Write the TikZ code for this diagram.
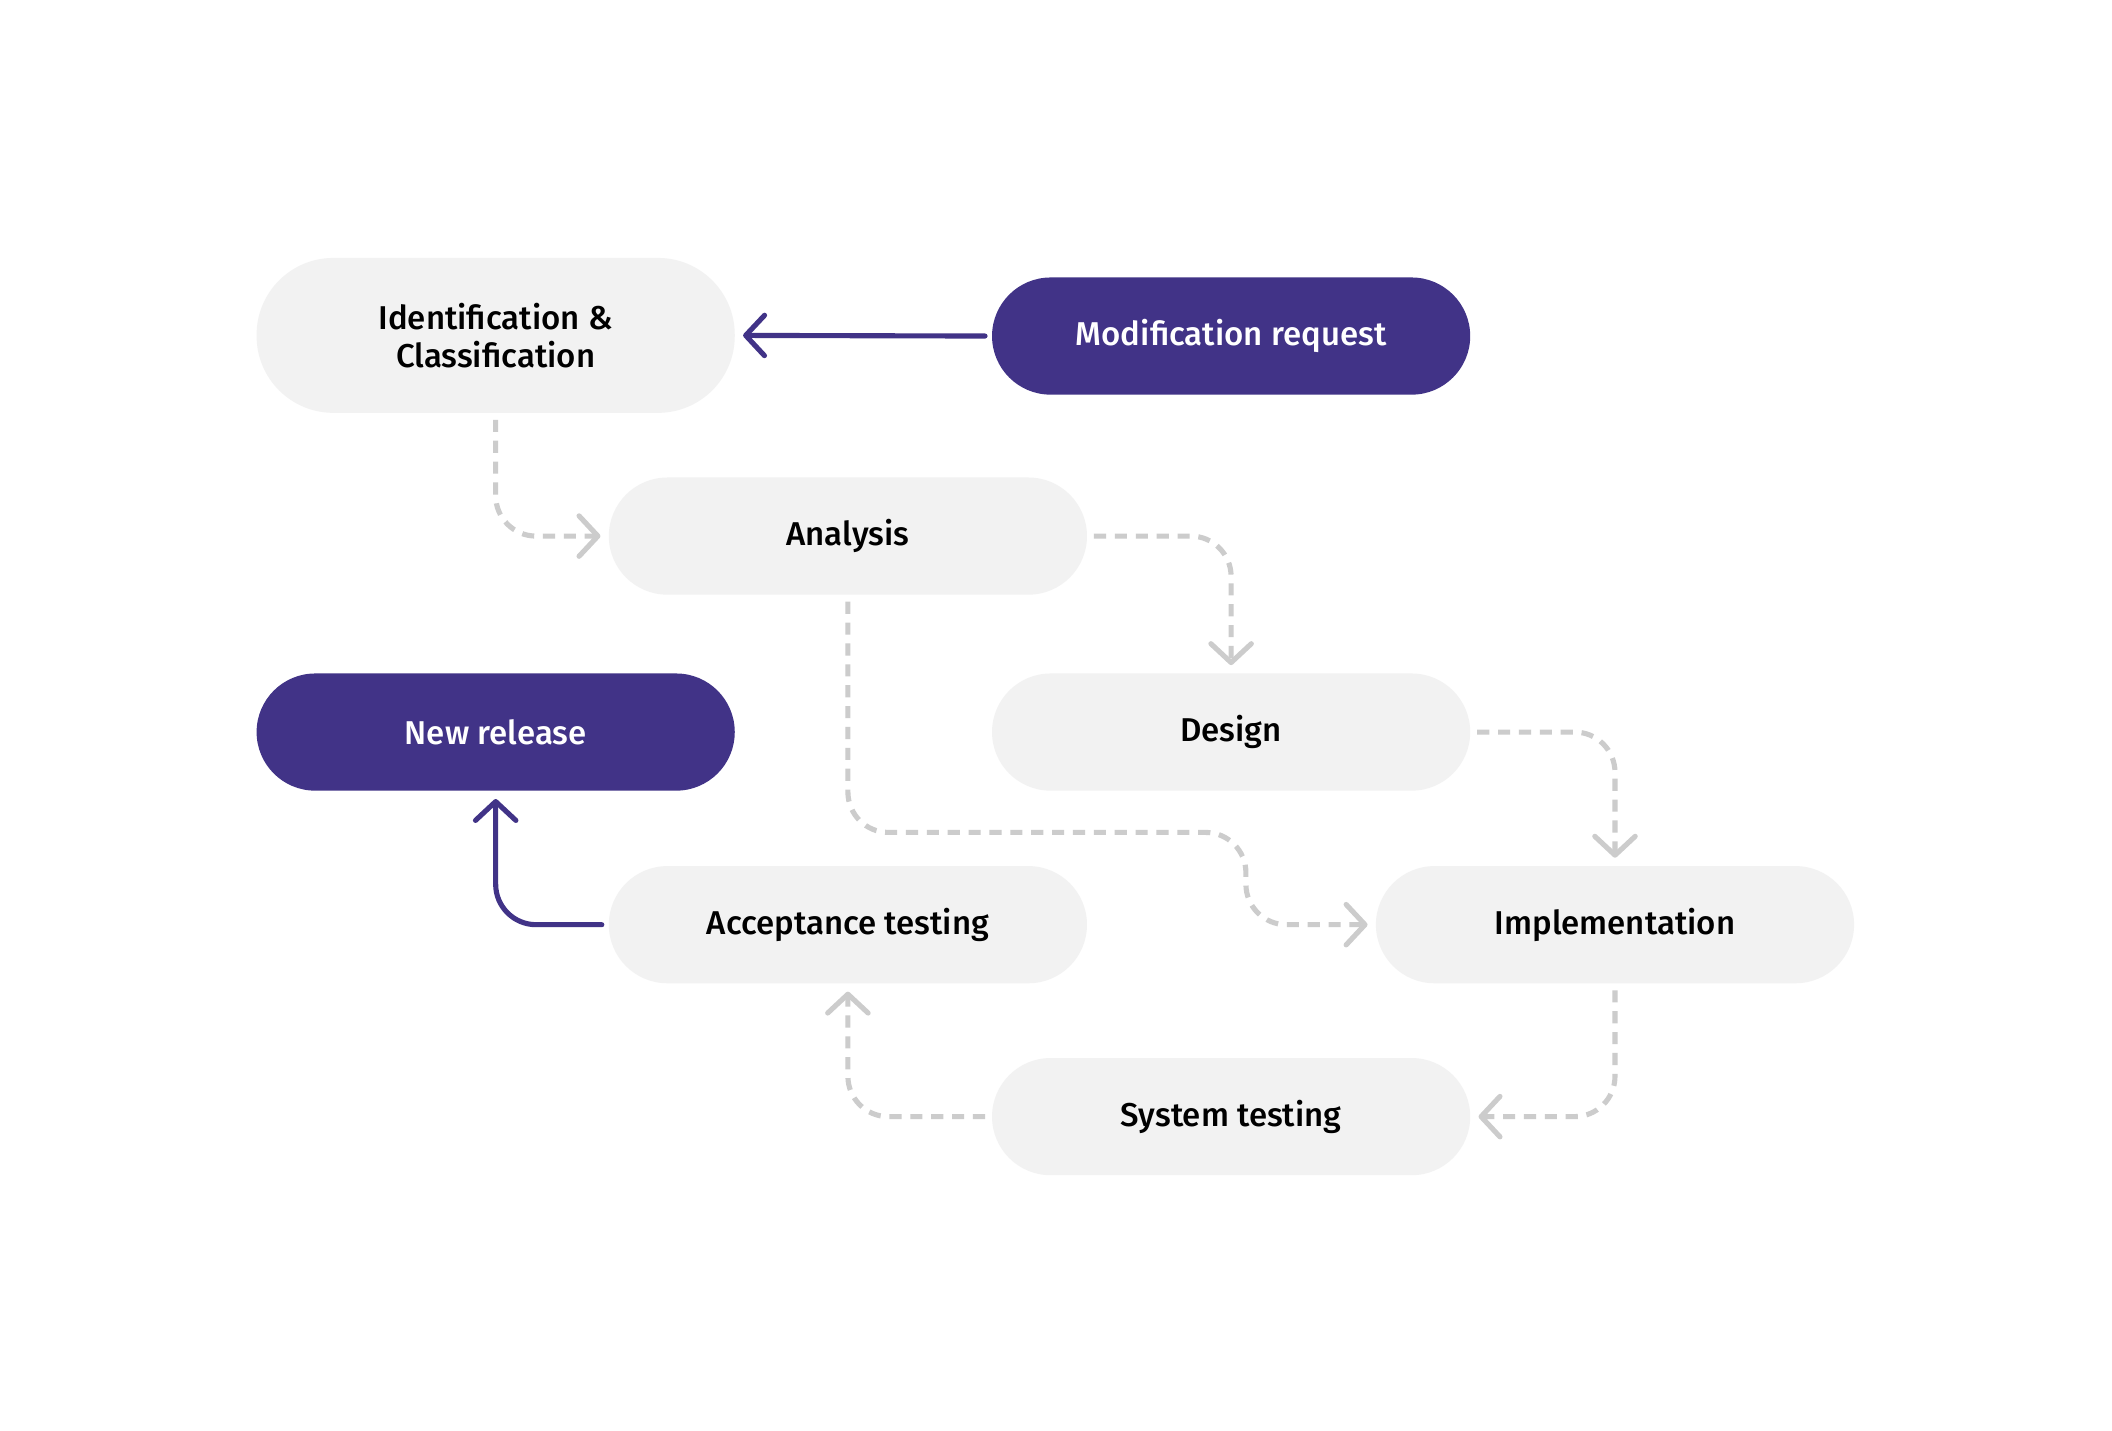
\documentclass[tikz,border=0pt]{standalone}
\usepackage{fontspec}
\setmainfont{Fira Sans}[BoldFont={Fira Sans Medium}]
\usetikzlibrary{arrows.meta}
\definecolor{purp}{HTML}{413387}
\definecolor{boxgray}{HTML}{F2F2F2}
\definecolor{dashgray}{HTML}{CCCCCC}
\begin{document}
\begin{tikzpicture}[x=1pt,y=-1pt,
  box/.style={rounded corners=43.5pt, minimum width=355pt, minimum height=87pt,
    fill=boxgray, text=black, font=\bfseries\fontsize{24.5}{28}\selectfont,
    align=center, inner sep=0pt},
  pbox/.style={box, fill=purp, text=white},
  chev/.style={-{Straight Barb[length=14pt,width=30pt,line width=3.8pt,round]}},
  dline/.style={draw=dashgray, line width=3.8pt, dash pattern=on 9pt off 6.5pt,
    chev, shorten >=6pt, shorten <=5pt, rounded corners=30pt},
  sline/.style={draw=purp, line width=3.8pt, line cap=round,
    chev, shorten >=6pt, shorten <=5pt, rounded corners=30pt}]
\useasboundingbox (0,0) rectangle (1568,1062);
\fill[white] (0,0) rectangle (1568,1062);

\node[box, minimum height=115pt, rounded corners=57pt] (ident) at (368,249)
  {Identification \&\\Classification};
\node[pbox] (modreq) at (914,249.5) {Modification request};
\node[box] (analysis) at (629.5,398) {Analysis};
\node[box] (design) at (914,543.5) {Design};
\node[pbox] (newrel) at (368,543.5) {New release};
\node[box] (accept) at (629.5,686.5) {Acceptance testing};
\node[box] (impl) at (1199,686.5) {Implementation};
\node[box] (systest) at (914,829) {System testing};
\coordinate (m1) at (925,618);

\draw[sline] (modreq.west) -- (ident.east);
\draw[dline] (ident.south) |- (analysis.west);
\draw[dline] (analysis.east) -| (design.north);
\draw[dline] (analysis.south) |- (m1) -- (m1 |- impl.west) -- (impl.west);
\draw[dline] (design.east) -| (impl.north);
\draw[dline] (impl.south) |- (systest.east);
\draw[dline] (systest.west) -| (accept.south);
\draw[sline] (accept.west) -| (newrel.south);
\end{tikzpicture}
\end{document}
